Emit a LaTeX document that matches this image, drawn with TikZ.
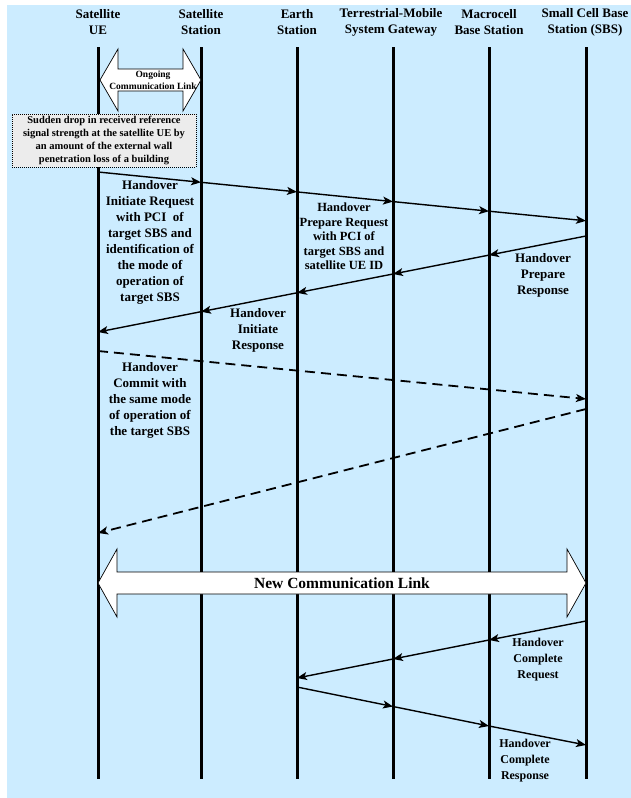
\documentclass[tikz,border=0pt]{standalone}
\usepackage{fontspec}
\setmainfont{Liberation Serif}
\usetikzlibrary{arrows.meta}
\definecolor{bgblue}{RGB}{204,236,255}
\definecolor{notegray}{RGB}{236,236,236}
\begin{document}
\begin{tikzpicture}[x=1pt,y=-1pt,
  lifeline/.style={line width=3pt},
  tip/.style={-{Stealth[length=10pt,width=8pt,inset=2.5pt]}},
  msg/.style={tip,line width=1.4pt},
  dashmsg/.style={tip,line width=1.8pt,dash pattern=on 10pt off 6pt},
  head/.style={font=\fontsize{13}{16}\selectfont\bfseries,align=center,inner sep=0pt},
  lbl/.style={font=\fontsize{13}{16}\selectfont\bfseries,align=center,inner sep=0pt},
  smalllbl/.style={font=\fontsize{12.5}{14.4}\selectfont\bfseries,align=center,inner sep=0pt},
  link/.style={draw=black,fill=white,line width=0.7pt,line join=miter},
  note/.style={draw=black,fill=notegray,line width=0.8pt,dash pattern=on 1pt off 1pt,
    align=center,inner sep=0pt,font=\fontsize{10.5}{13.3}\selectfont\bfseries}
]
\useasboundingbox (0,0) rectangle (631,798);
\fill[bgblue] (7,5) rectangle (631,798);

% participants
\node[head] (hue)  at (98,22)  {Satellite\\UE};
\node[head] (hss)  at (201,22) {Satellite\\Station};
\node[head] (hes)  at (297,22) {Earth\\Station};
\node[head] (hgw)  at (391,22) {Terrestrial-Mobile\\System Gateway};
\node[head] (hmc)  at (489,22) {Macrocell\\Base Station};
\node[head] (hsbs) at (585,22) {Small Cell Base\\Station (SBS)};

% lifelines
\foreach \n/\x in {ue/98,ss/201,es/297,gw/393,mc/489,sbs/586}{
  \coordinate (\n-top) at (\x,47);
  \coordinate (\n-bot) at (\x,779);
  \draw[lifeline] (\n-top) -- (\n-bot);
}

% ongoing link between UE and satellite station
\coordinate (oldL) at (100,80);
\coordinate (oldR) at (201,80);
\draw[link] (oldL) -- (118,49) -- (118,69) -- (183,69) -- (183,49) -- (oldR)
  -- (183,111) -- (183,91) -- (118,91) -- (118,111) -- cycle;
\node[font=\fontsize{9.5}{12}\selectfont\bfseries,align=center,inner sep=0pt] (oldtxt) at (153,80)
  {Ongoing\\Communication Link};

% trigger note
\node[note,minimum width=184pt,minimum height=53pt] (drop) at (104,140.5)
  {Sudden drop in received reference\\signal strength at the satellite UE by\\an amount of the external wall\\penetration loss of a building};

% handover initiate / prepare request
\coordinate (r1) at (98,172);
\coordinate (r2) at (201,182.3);
\coordinate (r3) at (297,191.9);
\coordinate (r4) at (393,201.6);
\coordinate (r5) at (489,211.2);
\coordinate (r6) at (586,220.8);
\draw[msg] (r1) -- (r2);
\draw[msg] (r2) -- (r3);
\draw[msg] (r3) -- (r4);
\draw[msg] (r4) -- (r5);
\draw[msg] (r5) -- (r6);

% handover prepare / initiate response
\coordinate (p6) at (586,236);
\coordinate (p5) at (489,255.1);
\coordinate (p4) at (393,274);
\coordinate (p3) at (297,292.8);
\coordinate (p2) at (201,311.7);
\coordinate (p1) at (98,332);
\draw[msg] (p6) -- (p5);
\draw[msg] (p5) -- (p4);
\draw[msg] (p4) -- (p3);
\draw[msg] (p3) -- (p2);
\draw[msg] (p2) -- (p1);

% handover commit and its return
\coordinate (c1) at (98,351);
\coordinate (c6) at (586,399);
\coordinate (d6) at (586,409);
\coordinate (d1) at (98,533);
\draw[dashmsg] (c1) -- (c6);
\draw[dashmsg] (d6) -- (d1);

% new link between UE and small cell
\coordinate (newL) at (98,583);
\coordinate (newR) at (586,583);
\draw[link] (newL) -- (117,549) -- (117,572) -- (567,572) -- (567,549) -- (newR)
  -- (567,617) -- (567,594) -- (117,594) -- (117,617) -- cycle;
\node[font=\fontsize{15.5}{18}\selectfont\bfseries,inner sep=0pt] (newtxt) at (342,583) {New Communication Link};

% handover complete request
\coordinate (q6) at (586,621);
\coordinate (q5) at (489,640);
\coordinate (q4) at (393,659);
\coordinate (q3) at (297,678);
\draw[msg] (q6) -- (q5);
\draw[msg] (q5) -- (q4);
\draw[msg] (q4) -- (q3);

% handover complete response
\coordinate (s3) at (297,687);
\coordinate (s4) at (393,706.5);
\coordinate (s5) at (489,726);
\coordinate (s6) at (586,745);
\draw[msg] (s3) -- (s4);
\draw[msg] (s4) -- (s5);
\draw[msg] (s5) -- (s6);

% message labels
\node[lbl] (lir) at (150,242) {Handover\\Initiate Request\\with PCI\ \ of\\target SBS and\\identification of\\the mode of\\operation of\\target SBS};
\node[smalllbl] (lpr) at (344,236.5) {Handover\\Prepare Request\\with PCI of\\target SBS and\\satellite UE ID};
\node[lbl] (lps) at (543,275) {Handover\\Prepare\\Response};
\node[lbl] (lis) at (258,330) {Handover\\Initiate\\Response};
\node[lbl] (lcm) at (150,400) {Handover\\Commit with\\the same mode\\of operation of\\the target SBS};
\node[smalllbl,font=\fontsize{12}{16}\selectfont\bfseries] (lcq) at (538,660) {Handover\\Complete\\Request};
\node[smalllbl,font=\fontsize{12}{16}\selectfont\bfseries] (lcs) at (525,761) {Handover\\Complete\\Response};
\end{tikzpicture}
\end{document}
